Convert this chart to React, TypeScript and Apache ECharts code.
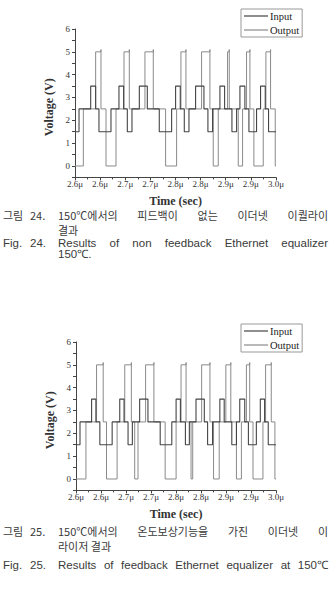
import React, { useEffect, useRef } from "react";
import * as echarts from "echarts";

// ---------- data ----------
const xTickLabels = ["2.6μ", "2.6μ", "2.7μ", "2.7μ", "2.8μ", "2.8μ", "2.9μ", "2.9μ", "3.0μ"];
const yTickLabels = [0, 1, 2, 3, 4, 5, 6];
const seriesNames = ["Input", "Output"];

// Fig. 24 – non feedback (time in μs, level in V from that time on)
const input1Times = [2.6, 2.608, 2.6312, 2.6411, 2.6477, 2.6716, 2.6875, 2.6968, 2.7041, 2.7134, 2.728, 2.7439, 2.7677, 2.7923, 2.8002, 2.8095, 2.8175, 2.8268, 2.84, 2.8566, 2.8645, 2.8738, 2.8884, 2.8977, 2.9123, 2.9216, 2.9282, 2.9381, 2.9461, 2.9613, 2.9693, 2.9786, 2.9852, 3.0];
const input1Levels = [1.5, 2.5, 3.5, 2.5, 1.5, 2.5, 3.5, 2.5, 1.5, 2.5, 3.5, 2.5, 1.5, 2.5, 3.5, 2.5, 1.5, 2.5, 3.5, 2.5, 1.5, 2.5, 3.5, 2.5, 1.5, 2.5, 3.5, 2.5, 1.5, 2.5, 3.5, 2.5, 1.5, 1.5];
const output1Times = [2.6, 2.6166, 2.6411, 2.6517, 2.6517, 2.6617, 2.6816, 2.6975, 2.7081, 2.7081, 2.7392, 2.7558, 2.7558, 2.7803, 2.8022, 2.8108, 2.8208, 2.8208, 2.8519, 2.8685, 2.8685, 2.8751, 2.8851, 2.9036, 2.907, 2.907, 2.9249, 2.9335, 2.9414, 2.9481, 2.9481, 2.956, 2.9746, 2.9799, 2.9892, 2.9892, 2.9985, 3.0];
const output1Levels = [0, 2.5, 5, 5.1, 2.5, 0, 2.5, 5, 5.1, 2.5, 5, 5.1, 2.5, 0, 2.5, 5, 5.1, 2.5, 5, 5.1, 2.5, 0, 2.5, 5, 5.1, 2.5, 0, 2.5, 5, 5.1, 2.5, 0, 2.5, 5, 5.1, 2.5, 0, 0];

// Fig. 25 – feedback
const input2Times = [2.6, 2.608, 2.6312, 2.6398, 2.6477, 2.6723, 2.6875, 2.6961, 2.7041, 2.7127, 2.7273, 2.7439, 2.7684, 2.7916, 2.8002, 2.8088, 2.8188, 2.8267, 2.84, 2.8566, 2.8632, 2.8731, 2.8877, 2.8964, 2.9116, 2.9209, 2.9275, 2.9375, 2.9448, 2.9607, 2.9686, 2.9772, 2.9845, 3.0];
const input2Levels = [1.5, 2.5, 3.5, 2.5, 1.5, 2.5, 3.5, 2.5, 1.5, 2.5, 3.5, 2.5, 1.5, 2.5, 3.5, 2.5, 1.5, 2.5, 3.5, 2.5, 1.5, 2.5, 3.5, 2.5, 1.5, 2.5, 3.5, 2.5, 1.5, 2.5, 3.5, 2.5, 1.5, 1.5];
const output2Times = [2.6, 2.6199, 2.6411, 2.6544, 2.6544, 2.661, 2.6822, 2.6975, 2.7107, 2.7107, 2.7174, 2.724, 2.7392, 2.7558, 2.7558, 2.7783, 2.8002, 2.8101, 2.8201, 2.8201, 2.8301, 2.8334, 2.8513, 2.8679, 2.8679, 2.8751, 2.8864, 2.8997, 2.9096, 2.9096, 2.9209, 2.9308, 2.9408, 2.9474, 2.9474, 2.954, 2.9739, 2.9792, 2.9905, 2.9905, 2.9978, 3.0];
const output2Levels = [0, 2.5, 5, 5.1, 2.5, 0, 2.5, 5, 5.1, 2.5, 0, 2.5, 5, 5.1, 2.5, 0, 2.5, 5, 5.1, 2.5, 0, 2.5, 5, 5.1, 2.5, 0, 2.5, 5, 5.1, 2.5, 0, 2.5, 5, 5.1, 2.5, 0, 2.5, 5, 5.1, 2.5, 0, 0];

// captions
const KR = "Noto Sans CJK KR";
const EN = "Liberation Sans";
type CapLine = { y: number; label?: string[]; words: string[]; justify: boolean; font: string };
const caption1: CapLine[] = [
  { y: 215, label: ["그림", "24."], words: ["150℃에서의", "피드백이", "없는", "이더넷", "이퀄라이"], justify: true, font: KR },
  { y: 230, words: ["결과"], justify: false, font: KR },
  { y: 243, label: ["Fig.", "24."], words: ["Results", "of", "non", "feedback", "Ethernet", "equalizer"], justify: true, font: EN },
  { y: 254, words: ["150℃."], justify: false, font: EN },
];
const caption2: CapLine[] = [
  { y: 531, label: ["그림", "25."], words: ["150℃에서의", "온도보상기능을", "가진", "이더넷", "이"], justify: true, font: KR },
  { y: 546, words: ["라이저", "결과"], justify: false, font: KR },
  { y: 565, label: ["Fig.", "25."], words: ["Results", "of", "feedback", "Ethernet", "equalizer", "at", "150℃"], justify: true, font: EN },
];

// ---------- helpers ----------
function toPath(times: number[], levels: number[]) {
  const pts: number[][] = [[times[0], levels[0]]];
  for (let i = 1; i < times.length; i++) {
    pts.push([times[i], levels[i - 1]]);
    pts.push([times[i], levels[i]]);
  }
  return pts;
}

const SERIF = "Liberation Serif";
const TXT = "#333";
const KR_SIZE = 11;
const EN_SIZE = 11.5;

let ctx: CanvasRenderingContext2D | null = null;
function measure(text: string, font: string, size: number) {
  if (!ctx) ctx = document.createElement("canvas").getContext("2d");
  if (!ctx) return text.length * size * 0.6;
  ctx.font = `${size}px "${font}"`;
  return ctx.measureText(text).width;
}

function captionTexts(lines: CapLine[]) {
  const out: any[] = [];
  const mk = (x: number, y: number, text: string, font: string) => ({
    type: "text",
    x,
    y,
    style: {
      text,
      fontFamily: font,
      fontSize: font === KR ? KR_SIZE : EN_SIZE,
      lineHeight: 11,
      fill: "#3a3a3a",
      verticalAlign: "middle",
    },
  });
  for (const ln of lines) {
    const size = ln.font === KR ? KR_SIZE : EN_SIZE;
    if (ln.label) {
      out.push(mk(3, ln.y, ln.label[0], ln.font));
      out.push(mk(30, ln.y, ln.label[1], ln.font));
    }
    const start = 58;
    const end = 328;
    const widths = ln.words.map((w) => measure(w, ln.font, size));
    const space = measure(" ", ln.font, size);
    let gap = space;
    if (ln.justify && ln.words.length > 1) {
      const total = widths.reduce((a, b) => a + b, 0);
      gap = (end - start - total) / (ln.words.length - 1);
    }
    let x = start;
    ln.words.forEach((w, i) => {
      out.push(mk(x, ln.y, w, ln.font));
      x += widths[i] + gap;
    });
  }
  return out;
}

function xAxis(gridIndex: number) {
  return {
    type: "value",
    gridIndex,
    min: 2.6,
    max: 3.0,
    interval: 0.05,
    name: "Time (sec)",
    nameLocation: "middle",
    nameGap: 18,
    nameTextStyle: { fontFamily: SERIF, fontSize: 12, fontWeight: "bold", color: TXT },
    axisLine: { onZero: false, lineStyle: { color: "#444", width: 1 } },
    axisTick: { show: true, length: 3, inside: false, lineStyle: { color: "#444" } },
    minorTick: { show: true, splitNumber: 2, length: 2, lineStyle: { color: "#444" } },
    splitLine: { show: false },
    axisLabel: {
      margin: 2,
      fontFamily: SERIF,
      fontSize: 9,
      color: TXT,
      formatter: (v: number) => xTickLabels[Math.round((v - 2.6) / 0.05)] ?? "",
    },
  };
}

function yAxis(gridIndex: number) {
  return {
    type: "value",
    gridIndex,
    min: -0.5,
    max: 6,
    interval: 0.5,
    name: "Voltage (V)",
    nameLocation: "middle",
    nameGap: 18,
    nameTextStyle: { fontFamily: SERIF, fontSize: 12, fontWeight: "bold", color: TXT, padding: [0, 0, 0, -8] },
    axisLine: { show: true, lineStyle: { color: "#444", width: 1 } },
    axisTick: { show: true, length: 3, lineStyle: { color: "#444" } },
    splitLine: { show: false },
    axisLabel: {
      margin: 5,
      fontFamily: SERIF,
      fontSize: 9,
      color: TXT,
      formatter: (v: number) => (yTickLabels.indexOf(v) >= 0 ? String(v) : ""),
    },
  };
}

function legend(top: number) {
  return {
    left: 241,
    top,
    orient: "vertical",
    data: seriesNames,
    icon: "rect",
    itemWidth: 24,
    itemHeight: 1.2,
    itemGap: 2,
    padding: [1, 3, 1, 3],
    borderColor: "#999",
    borderWidth: 1,
    selectedMode: false,
    textStyle: { fontFamily: SERIF, fontSize: 10.5, color: "#222", lineHeight: 12, padding: [0, 0, 0, -3] },
  };
}

const INPUT_COLOR = "#444";
const OUTPUT_COLOR = "#8a8a8a";

function line(name: string, idx: number, data: number[][], color: string, width: number) {
  return {
    type: "line",
    name,
    xAxisIndex: idx,
    yAxisIndex: idx,
    data,
    symbol: "none",
    showSymbol: false,
    color,
    itemStyle: { color },
    lineStyle: { color, width },
    z: name === "Input" ? 3 : 2,
  };
}

export default function App() {
  const ref = useRef<HTMLDivElement>(null);
  useEffect(() => {
    if (!ref.current) return;
    const chart = echarts.init(ref.current, undefined, { renderer: "svg" });
    chart.setOption({
      animation: false,
      backgroundColor: "#fff",
      grid: [
        { left: 75, top: 29, width: 201, height: 148.4 },
        { left: 76, top: 342, width: 200, height: 148.4 },
      ],
      xAxis: [xAxis(0), xAxis(1)],
      yAxis: [yAxis(0), yAxis(1)],
      legend: [legend(9), legend(324)],
      series: [
        line("Output", 0, toPath(output1Times, output1Levels), OUTPUT_COLOR, 1),
        line("Input", 0, toPath(input1Times, input1Levels), INPUT_COLOR, 1.1),
        line("Output", 1, toPath(output2Times, output2Levels), OUTPUT_COLOR, 1),
        line("Input", 1, toPath(input2Times, input2Levels), INPUT_COLOR, 1.1),
      ],
      graphic: [...captionTexts(caption1), ...captionTexts(caption2)],
    });
    return () => chart.dispose();
  }, []);
  return (
    <div
      ref={ref}
      style={{ position: "fixed", left: 0, top: 0, width: 331, height: 591, background: "#fff" }}
    />
  );
}
